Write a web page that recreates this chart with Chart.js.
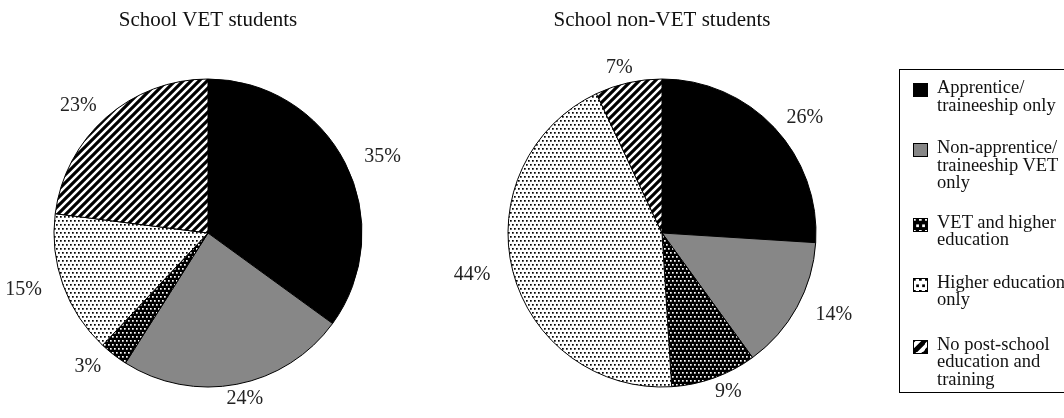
<!DOCTYPE html>
<html>
<head>
<meta charset="utf-8">
<script src="https://cdn.jsdelivr.net/npm/chart.js@4.4.1/dist/chart.umd.min.js"></script>
<style>
    body { margin: 0; background: #fff; width: 1064px; height: 418px; overflow: hidden; position: relative; font-family: "Liberation Serif", "Times New Roman", serif; }
    #c1 { position: absolute; left: 0; top: 0; }
    #c2 { position: absolute; left: 440px; top: 0; }
    #legend { position: absolute; left: 899px; top: 69px; width: 190px; height: 322px; border: 1px solid #000; }
    .item { display: flex; align-items: flex-start; margin-left: 13px; }
    .item canvas { margin-top: 4px; margin-right: 9px; flex: none; }
    .item .txt { font-size: 18.5px; line-height: 17.5px; color: #111; white-space: nowrap; }
</style>
</head>
<body>
<canvas id="c1" width="420" height="418"></canvas>
<canvas id="c2" width="440" height="418"></canvas>
<div id="legend"></div>

<script>
// Data
const categories = [
    ['Apprentice/', 'traineeship only'],
    ['Non-apprentice/', 'traineeship VET', 'only'],
    ['VET and higher', 'education'],
    ['Higher education', 'only'],
    ['No post-school', 'education and', 'training']
];
const vetStudents = [35, 24, 3, 15, 23];
const nonVetStudents = [26, 14, 9, 44, 7];
const chartTitles = ['School VET students', 'School non-VET students'];

// Fill patterns
function makePattern(kind, scale = 1) {
    const c = document.createElement('canvas');
    const g = c.getContext('2d');
    if (kind === 'solid') return '#000';
    if (kind === 'grey') return '#878787';
    if (kind === 'stripes') {
        const s = 8 * scale;
        c.width = s; c.height = s;
        g.fillStyle = '#fff'; g.fillRect(0, 0, s, s);
        g.strokeStyle = '#000'; g.lineWidth = 3.1 * scale;
        g.beginPath();
        g.moveTo(-2, 2); g.lineTo(2, -2);
        g.moveTo(0, s); g.lineTo(s, 0);
        g.moveTo(s - 2, s + 2); g.lineTo(s + 2, s - 2);
        g.stroke();
    } else {
        const s = 4 * scale;
        const dark = kind === 'dotsOnBlack';
        c.width = s; c.height = s * 2;
        g.fillStyle = dark ? '#000' : '#fff';
        g.fillRect(0, 0, s, s * 2);
        g.fillStyle = dark ? '#fff' : '#000';
        const d = 1.7 * scale;
        g.fillRect(0, 0, d, d);
        g.fillRect(s / 2, s, d, d);
    }
    return g.createPattern(c, 'repeat');
}

const fillKinds = ['solid', 'grey', 'dotsOnBlack', 'dotsOnWhite', 'stripes'];
const fills = fillKinds.map(k => makePattern(k));

// Percent labels outside each slice, laid on a slightly wide ellipse round the pie
const pctLabels = {
    id: 'pctLabels',
    afterDatasetsDraw(chart) {
        const ctx = chart.ctx;
        const meta = chart.getDatasetMeta(0);
        const vals = chart.data.datasets[0].data;
        ctx.save();
        ctx.font = '20px "Liberation Serif"';
        ctx.fillStyle = '#222';
        ctx.textAlign = 'center';
        ctx.textBaseline = 'middle';
        meta.data.forEach((arc, i) => {
            const p = arc.getProps(['x', 'y', 'startAngle', 'endAngle', 'outerRadius']);
            const a = (p.startAngle + p.endAngle) / 2;
            const rx = p.outerRadius + 42;
            const ry = p.outerRadius + 15;
            ctx.fillText(vals[i] + '%', p.x + Math.cos(a) * rx, p.y + Math.sin(a) * ry);
        });
        ctx.restore();
    }
};

function makePie(id, values, title, padding) {
    new Chart(document.getElementById(id), {
        type: 'pie',
        data: {
            labels: categories.map(c => c.join(' ')),
            datasets: [{
                data: values,
                backgroundColor: fills,
                borderColor: '#000',
                borderWidth: 1,
                hoverOffset: 0
            }]
        },
        options: {
            responsive: false,
            animation: false,
            events: [],
            layout: { padding },
            plugins: {
                legend: { display: false },
                tooltip: { enabled: false },
                title: {
                    display: true,
                    text: title,
                    color: '#111',
                    font: { family: 'Liberation Serif', size: 21, weight: 'normal' },
                    padding: { top: 8, bottom: 45.3 }
                }
            }
        },
        plugins: [pctLabels]
    });
}

makePie('c1', vetStudents, chartTitles[0], { left: 53.5, right: 57.5, top: 0, bottom: 30.5 });
makePie('c2', nonVetStudents, chartTitles[1], { left: 67.5, right: 63.5, top: 0, bottom: 30.5 });

// HTML legend
const legend = document.getElementById('legend');
const tops = [9, 25, 22, 25, 27];
categories.forEach((lines, i) => {
    const item = document.createElement('div');
    item.className = 'item';
    item.style.marginTop = tops[i] + 'px';
    const sw = document.createElement('canvas');
    sw.width = 15; sw.height = 14;
    const g = sw.getContext('2d');
    g.fillStyle = makePattern(fillKinds[i], 1.6);
    g.fillRect(0, 0, 15, 14);
    g.strokeStyle = '#000';
    g.lineWidth = 1;
    g.strokeRect(0.5, 0.5, 14, 13);
    const txt = document.createElement('div');
    txt.className = 'txt';
    txt.innerHTML = lines.join('<br>');
    item.appendChild(sw);
    item.appendChild(txt);
    legend.appendChild(item);
});
</script>
</body>
</html>
